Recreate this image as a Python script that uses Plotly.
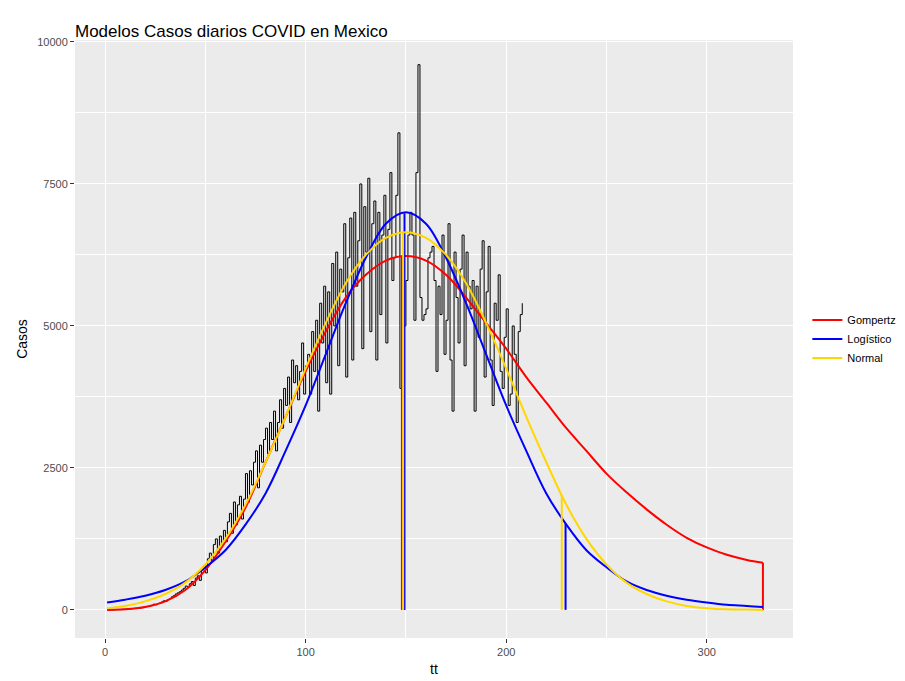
import numpy as np
import plotly.graph_objects as go

# daily cases, day 1..208
casos = [0, 0, 0, 0, 5, 5, 5, 10, 10, 10, 15, 20, 20, 25, 30, 30, 35, 40, 50, 60,
         60, 70, 80, 100, 90, 110, 120, 140, 160, 150, 180, 200, 230, 250, 280, 300, 320, 350, 380, 420,
         400, 460, 500, 430, 560, 600, 520, 700, 780, 650, 900, 1000, 850, 1150, 1250, 1000, 1300, 1150, 1400, 1200,
         1550, 1700, 1350, 1900, 1500, 1850, 2000, 1600, 1950, 2400, 1900, 2450, 2200, 2600, 2800, 2150, 2900, 2600, 3000, 3200,
         2750, 3300, 3000, 3500, 2800, 3300, 3700, 3200, 3900, 3600, 4100, 3300, 4400, 4000, 4300, 3700, 4200, 4700, 3800, 4300,
         4500, 3800, 4900, 4200, 5100, 3500, 5400, 4700, 5700, 4000, 5600, 3800, 6100, 5000, 6300, 4300, 6000, 5600, 6800, 4100,
         6200, 6900, 4400, 7000, 5700, 6500, 7500, 4600, 7100, 6300, 7600, 4900, 6800, 7200, 4400, 7000, 5200, 6600, 7300, 4700,
         6700, 7700, 5800, 6200, 7300, 8400, 3900, 5900, 5000, 5800, 6600, 7000, 6600, 5100, 7700, 9600, 5500, 5100, 5200, 5300,
         6200, 6300, 6400, 5800, 4200, 5700, 5200, 6600, 4500, 5100, 6800, 4400, 3500, 6300, 5500, 4700, 6000, 6600, 4300, 6300,
         5700, 5300, 5800, 3500, 5700, 4800, 6000, 6500, 4100, 5600, 6400, 4400, 3600, 5400, 5100, 5900, 4200, 3900, 4800, 5300,
         3600, 3800, 5000, 4500, 3300, 4900, 5200, 5400]

# fitted curves
dias_mod = [1, 10, 20, 30, 40, 50, 60, 70, 80, 90, 100, 110, 120, 130, 140, 150, 160, 170, 180,
            190, 200, 210, 220, 230, 240, 250, 260, 270, 280, 290, 300, 310, 320, 328]
gompertz = [0, 10, 50, 150, 350, 700, 1200, 1800, 2600, 3400, 4200, 4900, 5500, 5900, 6150, 6230, 6150, 5900, 5500,
            5050, 4600, 4100, 3650, 3200, 2800, 2400, 2070, 1770, 1500, 1270, 1100, 970, 880, 830]
logistico = [130, 180, 250, 350, 500, 750, 1050, 1500, 2050, 2800, 3600, 4500, 5400, 6200, 6800, 7000, 6800, 6200, 5400,
             4500, 3600, 2800, 2050, 1500, 1050, 750, 500, 350, 250, 180, 130, 90, 70, 50]
normal = [30, 70, 150, 280, 480, 800, 1250, 1850, 2600, 3400, 4250, 5050, 5750, 6250, 6550, 6650, 6550, 6250, 5750,
          5050, 4250, 3400, 2600, 1850, 1250, 800, 480, 280, 150, 70, 30, 10, 5, 0]

# days where each curve path drops to zero and back
caidas = {"Gompertz": [148, 328], "Logístico": [149.3, 229.6], "Normal": [148.6, 227.7]}
colores = {"Gompertz": "red", "Logístico": "blue", "Normal": "gold"}

fig = go.Figure()
dias = list(range(1, len(casos) + 1))
fig.add_trace(go.Scatter(x=dias, y=casos, mode="lines", line=dict(color="black", width=1, shape="hv"),
                         showlegend=False, hoverinfo="skip"))

for nombre, vals in [("Gompertz", gompertz), ("Logístico", logistico), ("Normal", normal)]:
    fig.add_trace(go.Scatter(x=dias_mod, y=vals, mode="lines", name=nombre, legendgroup=nombre,
                             line=dict(color=colores[nombre], width=2, shape="spline", smoothing=1.0)))
    for d in caidas[nombre]:
        v = float(np.interp(d, dias_mod, vals))
        fig.add_trace(go.Scatter(x=[d, d], y=[0, v], mode="lines", legendgroup=nombre, showlegend=False,
                                 line=dict(color=colores[nombre], width=2), hoverinfo="skip"))

ax = dict(showgrid=True, gridcolor="white", gridwidth=1.3, zeroline=False, automargin=False,
          ticks="outside", ticklen=4, tickcolor="#333333", tickfont=dict(color="#4d4d4d", size=11),
          showline=False)
fig.update_layout(
    width=905, height=681,
    margin=dict(l=67, r=113, t=32, b=51),
    paper_bgcolor="white", plot_bgcolor="#ebebeb",
    font=dict(family="Liberation Sans, Arial, sans-serif", size=12, color="black"),
    title=dict(text="Modelos Casos diarios COVID en Mexico", x=0.074, xanchor="left", y=0.975,
               font=dict(size=17), automargin=False),
    xaxis=dict(ax, range=[-15, 343], tickvals=[0, 100, 200, 300], title=dict(text="tt", standoff=6),
               minor=dict(showgrid=True, gridcolor="white", gridwidth=0.6, tickvals=[50, 150, 250], ticklen=0)),
    yaxis=dict(ax, range=[-495, 10035], tickvals=[0, 2500, 5000, 7500, 10000],
               ticktext=["0", "2500", "5000", "7500", "10000"], title=dict(text="Casos", standoff=6),
               minor=dict(showgrid=True, gridcolor="white", gridwidth=0.6, tickvals=[1250, 3750, 6250, 8750], ticklen=0)),
    legend=dict(x=1.02, y=0.5, yanchor="middle", bgcolor="white", font=dict(size=11),
                itemwidth=30, tracegroupgap=0),
)
fig.write_html("out.html")
